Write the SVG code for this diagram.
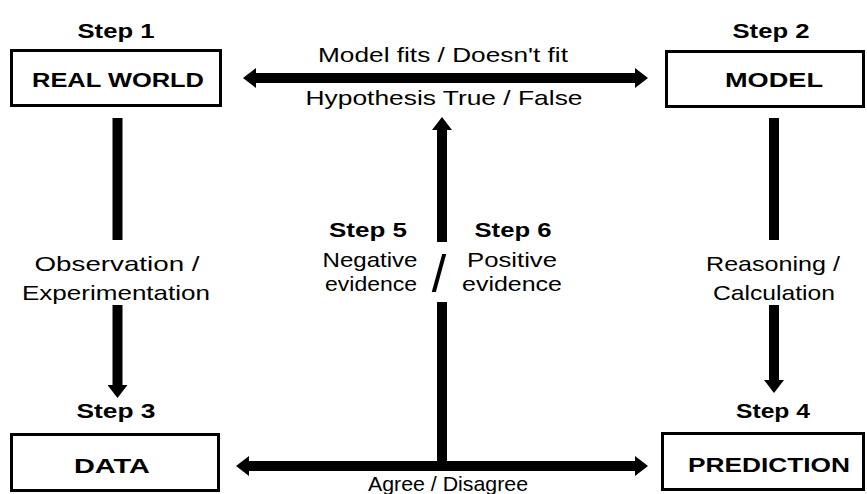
<svg xmlns="http://www.w3.org/2000/svg" width="867" height="494" viewBox="0 0 867 494">
<defs>
<style>
.box{fill:#fff;stroke:#000;stroke-width:3}
.t{font-family:"Liberation Sans",Arial,sans-serif;fill:#000;text-anchor:middle}
.b{font-weight:bold}
.step{font-size:20px;font-weight:bold}
.lbl{font-size:21px}
.conn{stroke:#000;stroke-width:10;fill:none}
</style>
<marker id="ah" viewBox="0 0 13 20" markerWidth="13" markerHeight="20" refX="0" refY="10" markerUnits="userSpaceOnUse" orient="auto-start-reverse">
<path d="M0,0 L13,10 L0,20 Z" fill="#000"/>
</marker>
</defs>
<rect width="867" height="494" fill="#fff"/>

<g id="step1">
<text class="t step" x="116" y="38" textLength="77" lengthAdjust="spacingAndGlyphs">Step 1</text>
<rect class="box" x="11.5" y="50.5" width="209" height="55"/>
<text class="t b" font-size="21" x="118" y="87" textLength="172" lengthAdjust="spacingAndGlyphs">REAL WORLD</text>
</g>

<g id="step2">
<text class="t step" x="771" y="38" textLength="77" lengthAdjust="spacingAndGlyphs">Step 2</text>
<rect class="box" x="666.5" y="51.5" width="197" height="55"/>
<text class="t b" font-size="21" x="774" y="87" textLength="98" lengthAdjust="spacingAndGlyphs">MODEL</text>
</g>

<g id="step3">
<text class="t step" x="116" y="418" textLength="79" lengthAdjust="spacingAndGlyphs">Step 3</text>
<rect class="box" x="11.5" y="434.5" width="207" height="56"/>
<text class="t b" font-size="21" x="112" y="473" textLength="76" lengthAdjust="spacingAndGlyphs">DATA</text>
</g>

<g id="step4">
<text class="t step" x="773" y="418" textLength="74" lengthAdjust="spacingAndGlyphs">Step 4</text>
<rect class="box" x="662.5" y="433.5" width="201" height="56"/>
<text class="t b" font-size="21" x="769" y="472" textLength="162" lengthAdjust="spacingAndGlyphs">PREDICTION</text>
</g>

<g id="labels">
<text class="t lbl" x="443" y="62" textLength="250" lengthAdjust="spacingAndGlyphs">Model fits / Doesn't fit</text>
<text class="t lbl" x="444" y="105" textLength="277" lengthAdjust="spacingAndGlyphs">Hypothesis True / False</text>
<text class="t lbl" x="448" y="491" textLength="160" lengthAdjust="spacingAndGlyphs">Agree / Disagree</text>
<text class="t lbl" x="117" y="271" textLength="165" lengthAdjust="spacingAndGlyphs">Observation /</text>
<text class="t lbl" x="116" y="300" textLength="188" lengthAdjust="spacingAndGlyphs">Experimentation</text>
<text class="t lbl" x="773" y="271" textLength="134" lengthAdjust="spacingAndGlyphs">Reasoning /</text>
<text class="t lbl" x="774" y="300" textLength="122" lengthAdjust="spacingAndGlyphs">Calculation</text>
<text class="t step" x="368" y="237" textLength="78" lengthAdjust="spacingAndGlyphs">Step 5</text>
<text class="t step" x="513" y="237" textLength="77" lengthAdjust="spacingAndGlyphs">Step 6</text>
<text class="t lbl" x="370" y="267" textLength="95" lengthAdjust="spacingAndGlyphs">Negative</text>
<text class="t lbl" x="371" y="291" textLength="92" lengthAdjust="spacingAndGlyphs">evidence</text>
<text class="t lbl" x="512" y="267" textLength="90" lengthAdjust="spacingAndGlyphs">Positive</text>
<text class="t lbl" x="512" y="291" textLength="100" lengthAdjust="spacingAndGlyphs">evidence</text>
<text class="t" font-size="52" x="439" y="292">/</text>
</g>

<g id="connectors">
<line class="conn" x1="256" y1="78" x2="635" y2="78" marker-start="url(#ah)" marker-end="url(#ah)"/>
<line class="conn" x1="249" y1="466" x2="635" y2="466" marker-start="url(#ah)" marker-end="url(#ah)"/>
<line class="conn" x1="117.5" y1="118" x2="117.5" y2="240"/>
<line class="conn" x1="117.5" y1="305" x2="117.5" y2="385" marker-end="url(#ah)"/>
<line class="conn" x1="774" y1="118" x2="774" y2="240"/>
<line class="conn" x1="774" y1="305" x2="774" y2="380" marker-end="url(#ah)"/>
<line class="conn" x1="442" y1="462" x2="442" y2="302"/>
<line class="conn" x1="442" y1="242" x2="442" y2="130" marker-end="url(#ah)"/>
</g>
</svg>
